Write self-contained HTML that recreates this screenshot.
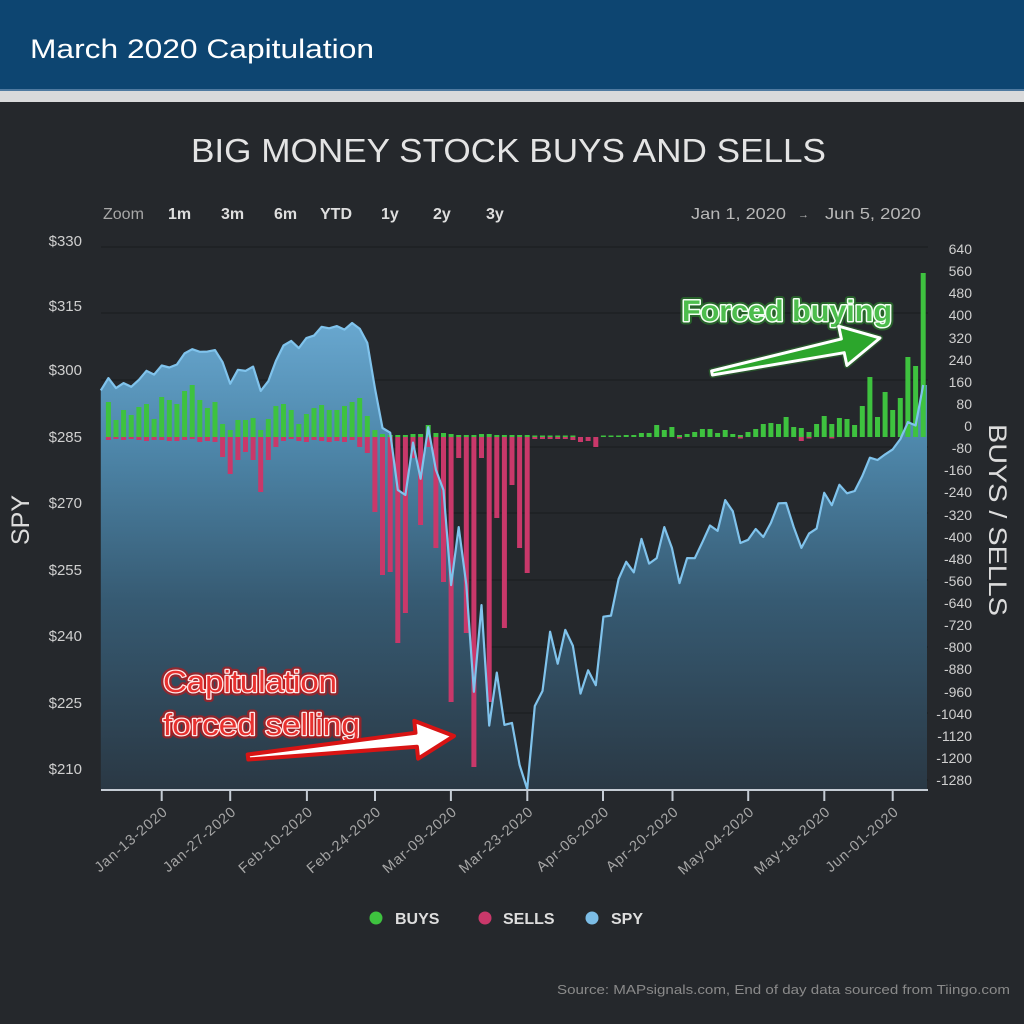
<!DOCTYPE html>
<html>
<head>
<meta charset="utf-8">
<style>
  html,body{margin:0;padding:0;background:#25282c;}
  svg{display:block;}
  text{font-family:"Liberation Sans",Arial,sans-serif;}
</style>
</head>
<body>
<svg width="1024" height="1024" viewBox="0 0 1024 1024" xmlns="http://www.w3.org/2000/svg">
  <defs>
    <linearGradient id="spyFill" gradientUnits="userSpaceOnUse" x1="0" y1="320" x2="0" y2="790">
      <stop offset="0" stop-color="#69a8d0"/>
      <stop offset="0.25" stop-color="#4f89ad"/>
      <stop offset="0.6" stop-color="#365a72"/>
      <stop offset="1" stop-color="#2a3844"/>
    </linearGradient>
  </defs>

  <!-- background -->
  <rect x="0" y="0" width="1024" height="1024" fill="#25282c"/>
  <!-- header -->
  <rect x="0" y="0" width="1024" height="90" fill="#0d4571"/>
  <rect x="0" y="89" width="1024" height="2" fill="#4f7aa0"/>
  <rect x="0" y="91" width="1024" height="11" fill="#d9dadb"/>
  <text x="30" y="58" font-size="27" fill="#ffffff" textLength="344" lengthAdjust="spacingAndGlyphs">March 2020 Capitulation</text>

  <!-- chart title -->
  <text x="191" y="162" font-size="33" fill="#e4e4e4" textLength="635" lengthAdjust="spacingAndGlyphs">BIG MONEY STOCK BUYS AND SELLS</text>

  <!-- zoom row -->
  <g font-size="16">
    <text x="103" y="219" fill="#a8a8a8">Zoom</text>
    <g font-weight="bold" fill="#dedede">
      <text x="168" y="219">1m</text>
      <text x="221" y="219">3m</text>
      <text x="274" y="219">6m</text>
      <text x="320" y="219">YTD</text>
      <text x="381" y="219">1y</text>
      <text x="433" y="219">2y</text>
      <text x="486" y="219">3y</text>
    </g>
    <text x="691" y="219" fill="#b8b8b8" textLength="95" lengthAdjust="spacingAndGlyphs">Jan 1, 2020</text>
    <text x="798" y="218" fill="#b8b8b8" font-size="11">→</text>
    <text x="825" y="219" fill="#b8b8b8" textLength="96" lengthAdjust="spacingAndGlyphs">Jun 5, 2020</text>
  </g>

  <!-- gridlines -->
  <g stroke="#1c1e21" stroke-width="1.2">
    <line x1="101" y1="247" x2="928" y2="247"/>
    <line x1="101" y1="313" x2="928" y2="313"/>
    <line x1="101" y1="380" x2="928" y2="380"/>
    <line x1="101" y1="447" x2="928" y2="447"/>
    <line x1="101" y1="513" x2="928" y2="513"/>
    <line x1="101" y1="580" x2="928" y2="580"/>
    <line x1="101" y1="647" x2="928" y2="647"/>
    <line x1="101" y1="713" x2="928" y2="713"/>
    <line x1="101" y1="780" x2="928" y2="780"/>
  </g>

  <!-- left axis labels -->
  <g font-size="15" fill="#cfcfcf" text-anchor="end">
    <text x="82" y="246">$330</text>
    <text x="82" y="311">$315</text>
    <text x="82" y="375">$300</text>
    <text x="82" y="442">$285</text>
    <text x="82" y="508">$270</text>
    <text x="82" y="575">$255</text>
    <text x="82" y="641">$240</text>
    <text x="82" y="708">$225</text>
    <text x="82" y="774">$210</text>
  </g>
  <text transform="translate(29,520) rotate(-90)" font-size="25" fill="#dcdcdc" text-anchor="middle">SPY</text>

  <!-- right axis labels -->
  <g font-size="14" fill="#cfcfcf" text-anchor="end">
    <text x="972" y="254">640</text>
    <text x="972" y="276">560</text>
    <text x="972" y="298">480</text>
    <text x="972" y="320">400</text>
    <text x="972" y="343">320</text>
    <text x="972" y="365">240</text>
    <text x="972" y="387">160</text>
    <text x="972" y="409">80</text>
    <text x="972" y="431">0</text>
    <text x="972" y="453">-80</text>
    <text x="972" y="475">-160</text>
    <text x="972" y="497">-240</text>
    <text x="972" y="520">-320</text>
    <text x="972" y="542">-400</text>
    <text x="972" y="564">-480</text>
    <text x="972" y="586">-560</text>
    <text x="972" y="608">-640</text>
    <text x="972" y="630">-720</text>
    <text x="972" y="652">-800</text>
    <text x="972" y="674">-880</text>
    <text x="972" y="697">-960</text>
    <text x="972" y="719">-1040</text>
    <text x="972" y="741">-1120</text>
    <text x="972" y="763">-1200</text>
    <text x="972" y="785">-1280</text>
  </g>
  <text transform="translate(989,520) rotate(90)" font-size="25" fill="#dcdcdc" text-anchor="middle" textLength="192" lengthAdjust="spacingAndGlyphs">BUYS / SELLS</text>

  <!-- SPY area -->
  <path fill="url(#spyFill)" d="M100.8,790 L100.8,390.4 L108.4,378.1 L116.0,388.1 L123.6,383.1 L131.2,386.8 L138.9,379.8 L146.5,370.8 L154.1,374.6 L161.7,365.5 L169.3,367.5 L176.9,364.5 L184.6,353.4 L192.2,349.2 L199.8,351.8 L207.4,351.6 L215.0,350.1 L222.6,362.2 L230.2,383.7 L237.9,369.8 L245.5,370.9 L253.1,366.6 L260.7,390.9 L268.3,381.2 L275.9,361.0 L283.5,345.5 L291.2,340.9 L298.8,348.1 L306.4,338.0 L314.0,335.6 L321.6,326.8 L329.2,328.3 L336.9,326.1 L344.5,329.6 L352.1,323.0 L359.7,328.7 L367.3,342.9 L374.9,388.1 L382.5,428.0 L390.2,432.7 L397.8,489.9 L405.4,495.0 L413.0,442.6 L420.6,478.8 L428.2,427.2 L435.9,469.7 L443.5,490.1 L451.1,585.1 L458.7,527.1 L466.3,584.5 L473.9,691.8 L481.5,605.1 L489.2,725.6 L496.8,672.6 L504.4,724.9 L512.0,722.9 L519.6,765.0 L527.2,789.0 L534.8,706.0 L542.5,691.0 L550.1,631.7 L557.7,663.7 L565.3,629.9 L572.9,645.9 L580.5,693.6 L588.1,670.3 L595.8,685.2 L603.4,616.7 L611.0,615.6 L618.6,579.0 L626.2,561.8 L633.8,572.3 L641.5,538.9 L649.1,563.6 L656.7,558.1 L664.3,527.1 L671.9,547.9 L679.5,583.1 L687.1,558.1 L694.8,558.2 L702.4,542.2 L710.0,525.5 L717.6,530.9 L725.2,500.1 L732.8,511.3 L740.4,543.0 L748.1,539.8 L755.7,529.0 L763.3,537.0 L770.9,522.9 L778.5,503.3 L786.1,503.0 L793.7,527.0 L801.4,547.9 L809.0,533.6 L816.6,528.6 L824.2,492.8 L831.8,505.2 L839.4,484.8 L847.0,493.3 L854.7,491.0 L862.3,476.0 L869.9,457.7 L877.5,460.0 L885.1,454.4 L892.7,449.4 L900.4,439.0 L908.0,422.1 L915.6,425.5 L923.2,385.0 L927,385 L927,790 Z"/>

  <!-- BUYS bars -->
  <g fill="#3ec23f">
    <rect x="105.9" y="402" width="5" height="35"/>
    <rect x="113.5" y="420" width="5" height="17"/>
    <rect x="121.1" y="410" width="5" height="27"/>
    <rect x="128.7" y="415" width="5" height="22"/>
    <rect x="136.4" y="407" width="5" height="30"/>
    <rect x="144.0" y="404" width="5" height="33"/>
    <rect x="151.6" y="419" width="5" height="18"/>
    <rect x="159.2" y="397" width="5" height="40"/>
    <rect x="166.8" y="400" width="5" height="37"/>
    <rect x="174.4" y="404" width="5" height="33"/>
    <rect x="182.1" y="391" width="5" height="46"/>
    <rect x="189.7" y="385" width="5" height="52"/>
    <rect x="197.3" y="400" width="5" height="37"/>
    <rect x="204.9" y="408" width="5" height="29"/>
    <rect x="212.5" y="402" width="5" height="35"/>
    <rect x="220.1" y="424" width="5" height="13"/>
    <rect x="227.7" y="430" width="5" height="7"/>
    <rect x="235.4" y="420" width="5" height="17"/>
    <rect x="243.0" y="420" width="5" height="17"/>
    <rect x="250.6" y="418" width="5" height="19"/>
    <rect x="258.2" y="430" width="5" height="7"/>
    <rect x="265.8" y="419" width="5" height="18"/>
    <rect x="273.4" y="406" width="5" height="31"/>
    <rect x="281.0" y="404" width="5" height="33"/>
    <rect x="288.7" y="410" width="5" height="27"/>
    <rect x="296.3" y="424" width="5" height="13"/>
    <rect x="303.9" y="414" width="5" height="23"/>
    <rect x="311.5" y="408" width="5" height="29"/>
    <rect x="319.1" y="405" width="5" height="32"/>
    <rect x="326.7" y="410" width="5" height="27"/>
    <rect x="334.4" y="410" width="5" height="27"/>
    <rect x="342.0" y="406" width="5" height="31"/>
    <rect x="349.6" y="402" width="5" height="35"/>
    <rect x="357.2" y="398" width="5" height="39"/>
    <rect x="364.8" y="416" width="5" height="21"/>
    <rect x="372.4" y="430" width="5" height="7"/>
    <rect x="380.0" y="434" width="5" height="3"/>
    <rect x="387.7" y="435" width="5" height="2"/>
    <rect x="395.3" y="435" width="5" height="2"/>
    <rect x="402.9" y="435" width="5" height="2"/>
    <rect x="410.5" y="434" width="5" height="3"/>
    <rect x="418.1" y="434" width="5" height="3"/>
    <rect x="425.7" y="425" width="5" height="12"/>
    <rect x="433.4" y="433" width="5" height="4"/>
    <rect x="441.0" y="433" width="5" height="4"/>
    <rect x="448.6" y="434" width="5" height="3"/>
    <rect x="456.2" y="435" width="5" height="2"/>
    <rect x="463.8" y="435" width="5" height="2"/>
    <rect x="471.4" y="435" width="5" height="2"/>
    <rect x="479.0" y="434" width="5" height="3"/>
    <rect x="486.7" y="434" width="5" height="3"/>
    <rect x="494.3" y="435" width="5" height="2"/>
    <rect x="501.9" y="435" width="5" height="2"/>
    <rect x="509.5" y="435" width="5" height="2"/>
    <rect x="517.1" y="435" width="5" height="2"/>
    <rect x="524.7" y="435" width="5" height="2"/>
    <rect x="532.3" y="435.5" width="5" height="1.5"/>
    <rect x="540.0" y="435.5" width="5" height="1.5"/>
    <rect x="547.6" y="435.5" width="5" height="1.5"/>
    <rect x="555.2" y="435.5" width="5" height="1.5"/>
    <rect x="562.8" y="435.5" width="5" height="1.5"/>
    <rect x="570.4" y="435.5" width="5" height="1.5"/>
    <rect x="600.9" y="435.5" width="5" height="1.5"/>
    <rect x="608.5" y="435.5" width="5" height="1.5"/>
    <rect x="616.1" y="435.5" width="5" height="1.5"/>
    <rect x="623.7" y="435" width="5" height="2"/>
    <rect x="631.3" y="435" width="5" height="2"/>
    <rect x="638.9" y="433" width="5" height="4"/>
    <rect x="646.6" y="433" width="5" height="4"/>
    <rect x="654.2" y="425" width="5" height="12"/>
    <rect x="661.8" y="430" width="5" height="7"/>
    <rect x="669.4" y="427" width="5" height="10"/>
    <rect x="677.0" y="435" width="5" height="2"/>
    <rect x="684.6" y="434" width="5" height="3"/>
    <rect x="692.2" y="432" width="5" height="5"/>
    <rect x="699.9" y="429" width="5" height="8"/>
    <rect x="707.5" y="429" width="5" height="8"/>
    <rect x="715.1" y="433" width="5" height="4"/>
    <rect x="722.7" y="430" width="5" height="7"/>
    <rect x="730.3" y="434" width="5" height="3"/>
    <rect x="737.9" y="435" width="5" height="2"/>
    <rect x="745.5" y="432" width="5" height="5"/>
    <rect x="753.2" y="429" width="5" height="8"/>
    <rect x="760.8" y="424" width="5" height="13"/>
    <rect x="768.4" y="423" width="5" height="14"/>
    <rect x="776.0" y="424" width="5" height="13"/>
    <rect x="783.6" y="417" width="5" height="20"/>
    <rect x="791.2" y="427" width="5" height="10"/>
    <rect x="798.8" y="428" width="5" height="9"/>
    <rect x="806.5" y="432" width="5" height="5"/>
    <rect x="814.1" y="424" width="5" height="13"/>
    <rect x="821.7" y="416" width="5" height="21"/>
    <rect x="829.3" y="424" width="5" height="13"/>
    <rect x="836.9" y="418" width="5" height="19"/>
    <rect x="844.5" y="419" width="5" height="18"/>
    <rect x="852.1" y="425" width="5" height="12"/>
    <rect x="859.8" y="406" width="5" height="31"/>
    <rect x="867.4" y="377" width="5" height="60"/>
    <rect x="875.0" y="417" width="5" height="20"/>
    <rect x="882.6" y="392" width="5" height="45"/>
    <rect x="890.2" y="410" width="5" height="27"/>
    <rect x="897.8" y="398" width="5" height="39"/>
    <rect x="905.4" y="357" width="5" height="80"/>
    <rect x="913.1" y="366" width="5" height="71"/>
    <rect x="920.7" y="273" width="5" height="164"/>
  </g>

  <!-- SELLS bars -->
  <g fill="#c9386a">
    <rect x="105.9" y="437" width="5" height="3"/>
    <rect x="113.5" y="437" width="5" height="2"/>
    <rect x="121.1" y="437" width="5" height="3"/>
    <rect x="128.7" y="437" width="5" height="2"/>
    <rect x="136.4" y="437" width="5" height="3"/>
    <rect x="144.0" y="437" width="5" height="4"/>
    <rect x="151.6" y="437" width="5" height="3"/>
    <rect x="159.2" y="437" width="5" height="3"/>
    <rect x="166.8" y="437" width="5" height="4"/>
    <rect x="174.4" y="437" width="5" height="4"/>
    <rect x="182.1" y="437" width="5" height="3"/>
    <rect x="189.7" y="437" width="5" height="2"/>
    <rect x="197.3" y="437" width="5" height="5"/>
    <rect x="204.9" y="437" width="5" height="4"/>
    <rect x="212.5" y="437" width="5" height="5"/>
    <rect x="220.1" y="437" width="5" height="20"/>
    <rect x="227.7" y="437" width="5" height="37"/>
    <rect x="235.4" y="437" width="5" height="23"/>
    <rect x="243.0" y="437" width="5" height="15"/>
    <rect x="250.6" y="437" width="5" height="23"/>
    <rect x="258.2" y="437" width="5" height="55"/>
    <rect x="265.8" y="437" width="5" height="23"/>
    <rect x="273.4" y="437" width="5" height="10"/>
    <rect x="281.0" y="437" width="5" height="4"/>
    <rect x="288.7" y="437" width="5" height="2"/>
    <rect x="296.3" y="437" width="5" height="4"/>
    <rect x="303.9" y="437" width="5" height="5"/>
    <rect x="311.5" y="437" width="5" height="3"/>
    <rect x="319.1" y="437" width="5" height="4"/>
    <rect x="326.7" y="437" width="5" height="5"/>
    <rect x="334.4" y="437" width="5" height="4"/>
    <rect x="342.0" y="437" width="5" height="5"/>
    <rect x="349.6" y="437" width="5" height="3"/>
    <rect x="357.2" y="437" width="5" height="10"/>
    <rect x="364.8" y="437" width="5" height="16"/>
    <rect x="372.4" y="437" width="5" height="75"/>
    <rect x="380.0" y="437" width="5" height="138"/>
    <rect x="387.7" y="437" width="5" height="135"/>
    <rect x="395.3" y="437" width="5" height="206"/>
    <rect x="402.9" y="437" width="5" height="176"/>
    <rect x="410.5" y="437" width="5" height="21"/>
    <rect x="418.1" y="437" width="5" height="88"/>
    <rect x="425.7" y="437" width="5" height="10"/>
    <rect x="433.4" y="437" width="5" height="111"/>
    <rect x="441.0" y="437" width="5" height="145"/>
    <rect x="448.6" y="437" width="5" height="265"/>
    <rect x="456.2" y="437" width="5" height="21"/>
    <rect x="463.8" y="437" width="5" height="196"/>
    <rect x="471.4" y="437" width="5" height="330"/>
    <rect x="479.0" y="437" width="5" height="21"/>
    <rect x="486.7" y="437" width="5" height="265"/>
    <rect x="494.3" y="437" width="5" height="81"/>
    <rect x="501.9" y="437" width="5" height="191"/>
    <rect x="509.5" y="437" width="5" height="48"/>
    <rect x="517.1" y="437" width="5" height="111"/>
    <rect x="524.7" y="437" width="5" height="136"/>
    <rect x="532.3" y="437" width="5" height="2"/>
    <rect x="540.0" y="437" width="5" height="2"/>
    <rect x="547.6" y="437" width="5" height="2"/>
    <rect x="555.2" y="437" width="5" height="2"/>
    <rect x="562.8" y="437" width="5" height="2"/>
    <rect x="570.4" y="437" width="5" height="3"/>
    <rect x="578.0" y="437" width="5" height="5"/>
    <rect x="585.6" y="437" width="5" height="4"/>
    <rect x="593.3" y="437" width="5" height="10"/>
    <rect x="677.0" y="437" width="5" height="1.5"/>
    <rect x="737.9" y="437" width="5" height="1.5"/>
    <rect x="798.8" y="437" width="5" height="4"/>
    <rect x="806.5" y="437" width="5" height="1.5"/>
    <rect x="829.3" y="437" width="5" height="1.5"/>
  </g>

  <!-- SPY line -->
  <polyline fill="none" stroke="#80c3ec" stroke-width="2.2" stroke-linejoin="round" points="100.8,390.4 108.4,378.1 116.0,388.1 123.6,383.1 131.2,386.8 138.9,379.8 146.5,370.8 154.1,374.6 161.7,365.5 169.3,367.5 176.9,364.5 184.6,353.4 192.2,349.2 199.8,351.8 207.4,351.6 215.0,350.1 222.6,362.2 230.2,383.7 237.9,369.8 245.5,370.9 253.1,366.6 260.7,390.9 268.3,381.2 275.9,361.0 283.5,345.5 291.2,340.9 298.8,348.1 306.4,338.0 314.0,335.6 321.6,326.8 329.2,328.3 336.9,326.1 344.5,329.6 352.1,323.0 359.7,328.7 367.3,342.9 374.9,388.1 382.5,428.0 390.2,432.7 397.8,489.9 405.4,495.0 413.0,442.6 420.6,478.8 428.2,427.2 435.9,469.7 443.5,490.1 451.1,585.1 458.7,527.1 466.3,584.5 473.9,691.8 481.5,605.1 489.2,725.6 496.8,672.6 504.4,724.9 512.0,722.9 519.6,765.0 527.2,789.0 534.8,706.0 542.5,691.0 550.1,631.7 557.7,663.7 565.3,629.9 572.9,645.9 580.5,693.6 588.1,670.3 595.8,685.2 603.4,616.7 611.0,615.6 618.6,579.0 626.2,561.8 633.8,572.3 641.5,538.9 649.1,563.6 656.7,558.1 664.3,527.1 671.9,547.9 679.5,583.1 687.1,558.1 694.8,558.2 702.4,542.2 710.0,525.5 717.6,530.9 725.2,500.1 732.8,511.3 740.4,543.0 748.1,539.8 755.7,529.0 763.3,537.0 770.9,522.9 778.5,503.3 786.1,503.0 793.7,527.0 801.4,547.9 809.0,533.6 816.6,528.6 824.2,492.8 831.8,505.2 839.4,484.8 847.0,493.3 854.7,491.0 862.3,476.0 869.9,457.7 877.5,460.0 885.1,454.4 892.7,449.4 900.4,439.0 908.0,422.1 915.6,425.5 923.2,385.0"/>

  <!-- x axis -->
  <line x1="101" y1="790" x2="928" y2="790" stroke="#c5ccd4" stroke-width="2"/>
  <g stroke="#c5ccd4" stroke-width="2">
    <line x1="161.7" y1="790" x2="161.7" y2="801"/>
    <line x1="230.2" y1="790" x2="230.2" y2="801"/>
    <line x1="306.9" y1="790" x2="306.9" y2="801"/>
    <line x1="375.0" y1="790" x2="375.0" y2="801"/>
    <line x1="450.9" y1="790" x2="450.9" y2="801"/>
    <line x1="527.3" y1="790" x2="527.3" y2="801"/>
    <line x1="603.0" y1="790" x2="603.0" y2="801"/>
    <line x1="672.5" y1="790" x2="672.5" y2="801"/>
    <line x1="748.2" y1="790" x2="748.2" y2="801"/>
    <line x1="824.3" y1="790" x2="824.3" y2="801"/>
    <line x1="892.7" y1="790" x2="892.7" y2="801"/>
  </g>
  <g font-size="14.5" fill="#a6a6a6" text-anchor="end" letter-spacing="0.9">
    <text transform="translate(168.7,813) rotate(-41)">Jan-13-2020</text>
    <text transform="translate(237.2,813) rotate(-41)">Jan-27-2020</text>
    <text transform="translate(313.9,813) rotate(-41)">Feb-10-2020</text>
    <text transform="translate(382.0,813) rotate(-41)">Feb-24-2020</text>
    <text transform="translate(457.9,813) rotate(-41)">Mar-09-2020</text>
    <text transform="translate(534.3,813) rotate(-41)">Mar-23-2020</text>
    <text transform="translate(610.0,813) rotate(-41)">Apr-06-2020</text>
    <text transform="translate(679.5,813) rotate(-41)">Apr-20-2020</text>
    <text transform="translate(755.2,813) rotate(-41)">May-04-2020</text>
    <text transform="translate(831.3,813) rotate(-41)">May-18-2020</text>
    <text transform="translate(899.7,813) rotate(-41)">Jun-01-2020</text>
  </g>

  <!-- annotations: Forced buying -->
  <g font-size="30" font-weight="bold">
    <text x="682" y="321" textLength="210" lengthAdjust="spacingAndGlyphs" fill="none" stroke="#2b8f2b" stroke-width="7" stroke-opacity="0.55" stroke-linejoin="round">Forced buying</text>
    <text x="682" y="321" textLength="210" lengthAdjust="spacingAndGlyphs" fill="none" stroke="#f4fff4" stroke-width="3" stroke-linejoin="round">Forced buying</text>
    <text x="682" y="321" textLength="210" lengthAdjust="spacingAndGlyphs" fill="#4cbd4c">Forced buying</text>
  </g>
  <polygon points="711.6,371 841.4,338.9 838.7,326.2 880,338 846.9,365.4 844.2,352.7 712.4,375" fill="#2ca62c" stroke="#2b7f2b" stroke-width="6" stroke-linejoin="round" stroke-opacity="0.5"/>
  <polygon points="711.6,371 841.4,338.9 838.7,326.2 880,338 846.9,365.4 844.2,352.7 712.4,375" fill="#2ca62c" stroke="#ffffff" stroke-width="3" stroke-linejoin="round"/>

  <!-- annotations: Capitulation -->
  <g font-size="31">
    <text x="163" y="692" textLength="174" lengthAdjust="spacingAndGlyphs" fill="none" stroke="#d01010" stroke-width="7" stroke-opacity="0.6" stroke-linejoin="round">Capitulation</text>
    <text x="163" y="692" textLength="174" lengthAdjust="spacingAndGlyphs" fill="none" stroke="#ffe8e8" stroke-width="2.5" stroke-linejoin="round">Capitulation</text>
    <text x="163" y="692" textLength="174" lengthAdjust="spacingAndGlyphs" fill="#e8312f">Capitulation</text>
    <text x="163" y="735" textLength="197" lengthAdjust="spacingAndGlyphs" fill="none" stroke="#d01010" stroke-width="7" stroke-opacity="0.6" stroke-linejoin="round">forced selling</text>
    <text x="163" y="735" textLength="197" lengthAdjust="spacingAndGlyphs" fill="none" stroke="#ffe8e8" stroke-width="2.5" stroke-linejoin="round">forced selling</text>
    <text x="163" y="735" textLength="197" lengthAdjust="spacingAndGlyphs" fill="#e8312f">forced selling</text>
  </g>
  <polygon points="247.7,754.5 415.5,732.8 414.3,720.9 454,736 418.1,758.7 416.9,746.8 248.3,759.5" fill="#ffffff" stroke="#d81414" stroke-width="4" stroke-linejoin="round"/>

  <!-- legend -->
  <circle cx="376" cy="918" r="6.5" fill="#3ec23f"/>
  <text x="395" y="924" font-size="16" font-weight="bold" fill="#dedede">BUYS</text>
  <circle cx="485" cy="918" r="6.5" fill="#c9386a"/>
  <text x="503" y="924" font-size="16" font-weight="bold" fill="#dedede">SELLS</text>
  <circle cx="592" cy="918" r="6.5" fill="#7cbde6"/>
  <text x="611" y="924" font-size="16" font-weight="bold" fill="#dedede">SPY</text>

  <!-- source -->
  <text x="1010" y="994" font-size="13" fill="#8a8a8a" text-anchor="end" textLength="453" lengthAdjust="spacingAndGlyphs">Source: MAPsignals.com, End of day data sourced from Tiingo.com</text>
</svg>
</body>
</html>
